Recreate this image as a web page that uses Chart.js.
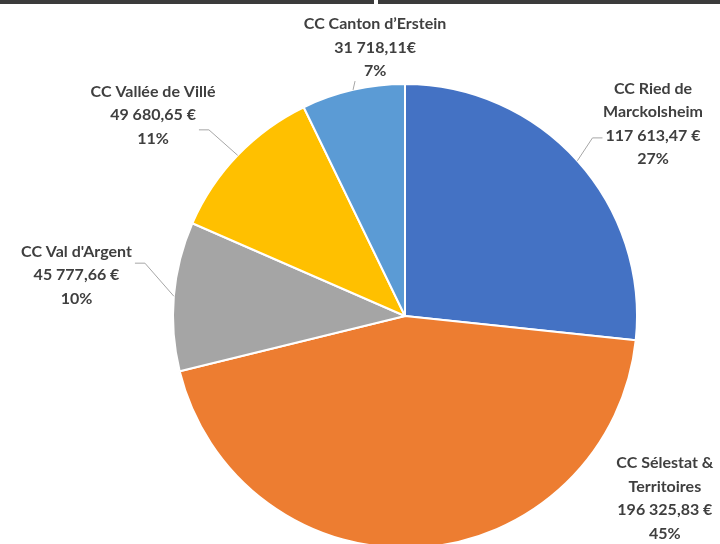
<!DOCTYPE html>
<html>
<head>
<meta charset="utf-8">
<script src="https://cdn.jsdelivr.net/npm/chart.js@4.4.1/dist/chart.umd.min.js"></script>
<style>
  html, body { margin: 0; padding: 0; background: #fff; overflow: hidden; width: 720px; height: 544px; }
  #topbar { position: absolute; left: 0; top: 0; width: 720px; height: 4px; background: #3b3b3b; z-index: 2; }
  #topgap { position: absolute; left: 374px; top: 0; width: 4px; height: 6px; background: #fff; z-index: 3; }
  canvas { position: absolute; left: 0; top: 0; }
</style>
</head>
<body>
<div id="topbar"></div><div id="topgap"></div>
<canvas id="pie" width="720" height="600"></canvas>
<script>
// slices, clockwise from 12 o'clock
const nameLines = [
  ["CC Ried de", "Marckolsheim"],
  ["CC Sélestat &", "Territoires"],
  ["CC Val d'Argent"],
  ["CC Vallée de Villé"],
  ["CC Canton d’Erstein"]
];
const amounts = [117613.47, 196325.83, 45777.66, 49680.65, 31718.11];
const amountLabels = ["117 613,47 €", "196 325,83 €", "45 777,66 €", "49 680,65 €", "31 718,11€"];
const sliceColors = ["#4472c4", "#ed7d31", "#a5a5a5", "#ffc000", "#5b9bd5"];

// where each label sits, in pie radii from the centre, and how its leader line runs
const labelLayout = [
  { dx: 1.069, dy: -0.828, leader: "left", line: 2, ly: 14 },
  { dx: 1.12, dy: 0.785, leader: null },
  { dx: -1.416, dy: -0.176, leader: "right", line: 0, ly: -12 },
  { dx: -1.086, dy: -0.867, leader: "right", line: 1, ly: 15 },
  { dx: -0.129, dy: -1.157, leader: "below" }
];

const total = amounts.reduce((a, b) => a + b, 0);
const percentLabels = amounts.map((v) => Math.round(v / total * 100) + "%");

const LINE_H = 23.5;
const FONT = "bold 16px Lato";

const outsideLabels = {
  id: "outsideLabels",
  afterDraw(chart) {
    const ctx = chart.ctx;
    const arcs = chart.getDatasetMeta(0).data;
    ctx.save();
    ctx.font = FONT;
    ctx.textAlign = "center";
    ctx.textBaseline = "middle";
    arcs.forEach((arc, i) => {
      const { x, y, outerRadius, startAngle, endAngle } = arc.getProps(["x", "y", "outerRadius", "startAngle", "endAngle"], true);
      const lay = labelLayout[i];
      const lines = [...nameLines[i], amountLabels[i], percentLabels[i]];
      const cx = x + lay.dx * outerRadius;
      const cy = y + lay.dy * outerRadius;
      const top = cy - (lines.length - 1) * LINE_H / 2;

      // leader line to the middle of the slice edge
      if (lay.leader) {
        const mid = (startAngle + endAngle) / 2;
        const ex = x + Math.cos(mid) * outerRadius;
        const ey = y + Math.sin(mid) * outerRadius;
        ctx.strokeStyle = "#a6a6a6";
        ctx.lineWidth = 1;
        ctx.beginPath();
        if (lay.leader === "below") {
          ctx.moveTo(ex + 2, top + (lines.length - 1) * LINE_H + 10);
          ctx.lineTo(ex, ey);
        } else {
          const w = ctx.measureText(lines[lay.line]).width;
          const dir = lay.leader === "left" ? -1 : 1;
          const sx = cx + dir * (w / 2 + 3);
          const sy = cy + lay.ly;
          ctx.moveTo(sx, sy);
          ctx.lineTo(sx + dir * 10, sy);
          ctx.lineTo(ex, ey);
        }
        ctx.stroke();
      }

      ctx.fillStyle = "#3f3f3f";
      lines.forEach((t, k) => ctx.fillText(t, cx, top + k * LINE_H));
    });
    ctx.restore();
  }
};

new Chart(document.getElementById("pie"), {
  type: "pie",
  data: {
    labels: nameLines.map((l) => l.join(" ")),
    datasets: [{
      data: amounts,
      backgroundColor: sliceColors,
      borderColor: "#ffffff",
      borderWidth: 2
    }]
  },
  options: {
    responsive: false,
    animation: false,
    layout: { padding: { top: 83, bottom: 51, left: 172, right: 82 } },
    plugins: {
      legend: { display: false },
      tooltip: { enabled: false }
    }
  },
  plugins: [outsideLabels]
});
</script>
</body>
</html>
